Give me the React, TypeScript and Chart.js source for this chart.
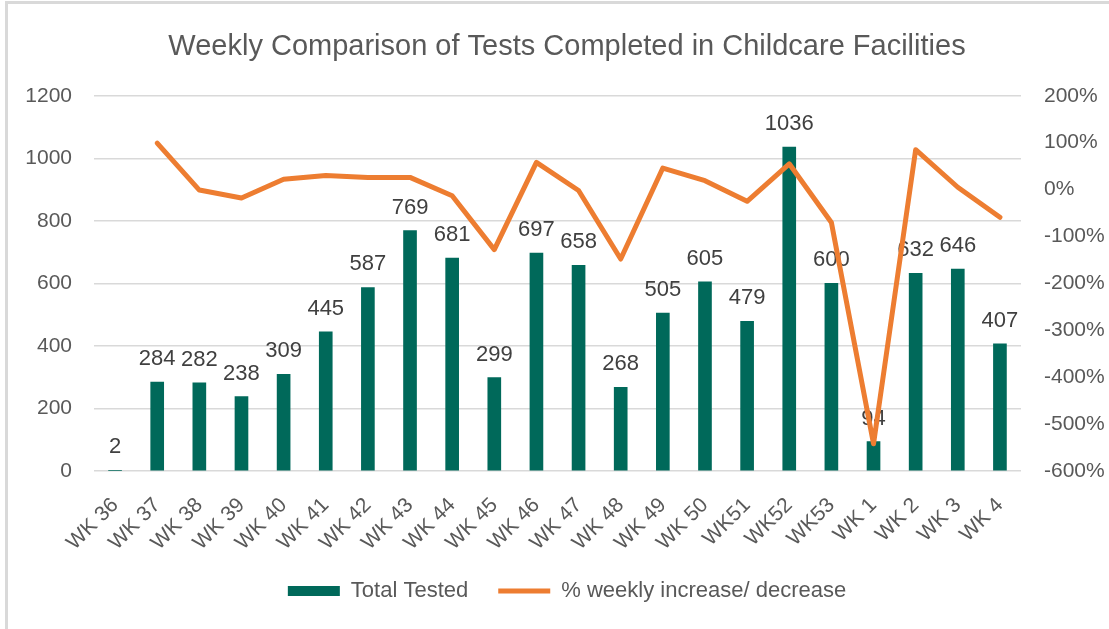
import React, { useEffect, useRef } from "react";
import { Chart, registerables } from "chart.js";

Chart.register(...registerables);

const weeks = [
  "WK 36", "WK 37", "WK 38", "WK 39", "WK 40", "WK 41", "WK 42", "WK 43",
  "WK 44", "WK 45", "WK 46", "WK 47", "WK 48", "WK 49", "WK 50", "WK51",
  "WK52", "WK53", "WK 1", "WK 2", "WK 3", "WK 4",
];
const totalTested = [
  2, 284, 282, 238, 309, 445, 587, 769, 681, 299, 697, 658, 268, 505, 605,
  479, 1036, 600, 94, 632, 646, 407,
];
const weeklyChangePct = [
  null, 99, -1, -18, 22, 30, 26, 26, -13, -128, 58, -2, -148, 46, 19, -25,
  55, -70, -542, 85, 5, -59,
];
const leftTicks = { min: 0, max: 1200, step: 200 };
const rightTicks = { min: -600, max: 200, step: 100 };

const TEXT = "#595959";
const LABEL = "#404040";
const GREEN = "#00695A";
const ORANGE = "#ED7D31";
const GRID = "#D9D9D9";
const FONT = '"Liberation Sans", Arial, sans-serif';

const barLabels = {
  id: "barLabels",
  afterDatasetDraw(chart: any, args: any) {
    if (args.index !== 0) return;
    const ctx = chart.ctx;
    ctx.save();
    ctx.font = `22px ${FONT}`;
    ctx.fillStyle = LABEL;
    ctx.textAlign = "center";
    ctx.textBaseline = "alphabetic";
    args.meta.data.forEach((el: any, i: number) => {
      ctx.fillText(String(totalTested[i]), el.x, el.y - 17);
    });
    ctx.restore();
  },
};

export default function App() {
  const ref = useRef<HTMLCanvasElement | null>(null);

  useEffect(() => {
    if (!ref.current) return;
    const chart = new Chart(ref.current, {
      type: "bar",
      data: {
        labels: weeks,
        datasets: [
          {
            type: "bar",
            label: "Total Tested",
            data: totalTested,
            backgroundColor: GREEN,
            barThickness: 13,
            yAxisID: "y",
            order: 2,
            pointStyle: "rect",
          } as any,
          {
            type: "line",
            label: "% weekly increase/ decrease",
            data: weeklyChangePct,
            borderColor: ORANGE,
            backgroundColor: ORANGE,
            borderWidth: 5,
            pointRadius: 0,
            pointHoverRadius: 0,
            pointBorderWidth: 5,
            pointBorderColor: ORANGE,
            pointStyle: "line",
            borderJoinStyle: "round",
            borderCapStyle: "round",
            tension: 0,
            yAxisID: "y1",
            order: 1,
          } as any,
        ],
      },
      options: {
        animation: false,
        responsive: false,
        layout: { padding: { left: 25, right: 0, top: 0, bottom: 17 } },
        plugins: {
          tooltip: { enabled: false },
          title: {
            display: true,
            text: "Weekly Comparison of Tests Completed in Childcare Facilities",
            color: TEXT,
            font: { family: FONT, size: 29, weight: "normal" },
            padding: { top: 30, bottom: 31 },
          },
          legend: {
            position: "bottom",
            labels: {
              color: TEXT,
              font: { family: FONT, size: 22 },
              usePointStyle: true,
              pointStyleWidth: 52,
              boxHeight: 10,
              padding: 30,
              sort: (a: any, b: any) => a.datasetIndex - b.datasetIndex,
            },
          },
        },
        scales: {
          x: {
            grid: { display: false, drawTicks: false },
            border: { display: false },
            ticks: {
              color: TEXT,
              font: { family: FONT, size: 21 },
              minRotation: 45,
              maxRotation: 45,
              autoSkip: false,
              padding: 22,
            },
            afterFit: (s: any) => {
              s.height = 79;
            },
          },
          y: {
            position: "left",
            min: leftTicks.min,
            max: leftTicks.max,
            grid: { color: GRID, lineWidth: 1.5, drawTicks: false },
            border: { display: false },
            ticks: {
              stepSize: leftTicks.step,
              color: TEXT,
              font: { family: FONT, size: 21 },
              padding: 22,
              callback: (v: any) => String(v),
            },
            afterFit: (s: any) => {
              s.width = 69;
            },
          },
          y1: {
            position: "right",
            min: rightTicks.min,
            max: rightTicks.max,
            grid: { display: false, drawTicks: false },
            border: { display: false },
            ticks: {
              stepSize: rightTicks.step,
              color: TEXT,
              font: { family: FONT, size: 21 },
              padding: 23,
              callback: (v: any) => `${v}%`,
            },
            afterFit: (s: any) => {
              s.width = 88;
            },
          },
        },
      },
      plugins: [barLabels],
    } as any);
    return () => chart.destroy();
  }, []);

  return (
    <div style={{ position: "fixed", left: 0, top: 0, width: 1109, height: 629, background: "#fff" }}>
      <div
        style={{
          position: "absolute",
          left: 5,
          top: 1,
          width: 1104,
          height: 628,
          borderTop: `3px solid ${GRID}`,
          borderLeft: `3px solid ${GRID}`,
          boxSizing: "border-box",
        }}
      />
      <canvas
        ref={ref}
        width={1109}
        height={629}
        style={{ position: "absolute", left: 0, top: 0, display: "block" }}
      />
    </div>
  );
}
